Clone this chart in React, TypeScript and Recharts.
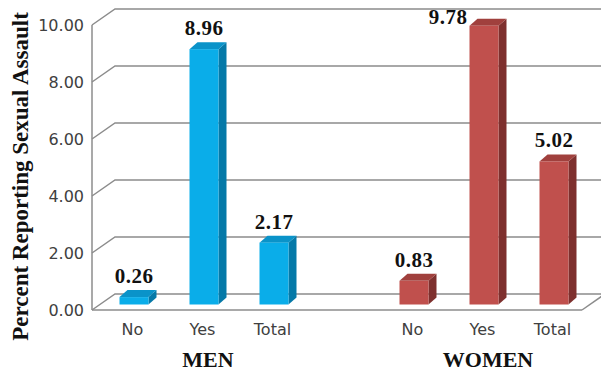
import React from "react";
import { BarChart, Bar, XAxis, YAxis, CartesianGrid, LabelList } from "recharts";

const categories = ["No", "Yes", "Total", "", "No", "Yes", "Total"];
const groups = ["MEN", "MEN", "MEN", "", "WOMEN", "WOMEN", "WOMEN"];
const values: (number | null)[] = [0.26, 8.96, 2.17, null, 0.83, 9.78, 5.02];
const yTicks = [0, 2, 4, 6, 8, 10];
const yTitle = "Percent Reporting Sexual Assault";

const data = categories.map((c, i) => ({ id: i, cat: c, grp: groups[i], value: values[i] }));

const W = 601;
const H = 377;
const MARGIN = { top: 25, right: 19, left: 0, bottom: 0 };
const X1_H = 30;
const X2_H = 37;
const PLOT_TOP = MARGIN.top;
const PLOT_BOTTOM = H - X1_H - X2_H;

const WALL_DX = 23;
const WALL_DY = -16;
const BAR_SHIFT_X = 6.5;
const BAR_SHIFT_Y = -5.5;
const BAR_DX = 8;
const BAR_DY = -7;
const TICK_SHIFT_X = 5.5;
const GRID = "#8c8c8c";
const SERIF = "'Liberation Serif', 'Times New Roman', serif";
const SANS = "'DejaVu Sans', sans-serif";

const PALETTE: Record<string, { front: string; side: string; top: string }> = {
  MEN: { front: "#0AADE9", side: "#0579A8", top: "#0A93C9" },
  WOMEN: { front: "#C0504D", side: "#7E302E", top: "#A0403D" },
};

const Bar3D = (props: any) => {
  const { x, y, width, height, payload } = props;
  if (payload == null || payload.value == null || !(height > 0)) return null;
  const c = PALETTE[payload.grp] || PALETTE.MEN;
  const fx = x + BAR_SHIFT_X;
  const fy = y + BAR_SHIFT_Y;
  const top = `${fx},${fy} ${fx + BAR_DX},${fy + BAR_DY} ${fx + width + BAR_DX},${fy + BAR_DY} ${fx + width},${fy}`;
  const side = `${fx + width},${fy} ${fx + width + BAR_DX},${fy + BAR_DY} ${fx + width + BAR_DX},${fy + height + BAR_DY} ${fx + width},${fy + height}`;
  return (
    <g>
      <polygon points={side} fill={c.side} />
      <polygon points={top} fill={c.top} />
      <rect x={fx} y={fy} width={width} height={height} fill={c.front} />
    </g>
  );
};

const ValueLabel = (props: any) => {
  const { x, y, width, value } = props;
  if (value == null) return null;
  const fx = x + BAR_SHIFT_X;
  const top = y + BAR_SHIFT_Y;
  const style = { fontFamily: SERIF, fontWeight: 700, fontSize: 21, letterSpacing: 0.5 } as const;
  if (top - PLOT_TOP < 15) {
    return (
      <text x={fx - 2} y={top - 2} textAnchor="end" fill="#111" style={style}>
        {Number(value).toFixed(2)}
      </text>
    );
  }
  return (
    <text x={fx + width / 2} y={top - 14} textAnchor="middle" fill="#111" style={style}>
      {Number(value).toFixed(2)}
    </text>
  );
};

const CatTick = (props: any) => {
  const { x, y, payload } = props;
  const label = categories[payload.value] ?? "";
  if (!label) return null;
  return (
    <text x={x + TICK_SHIFT_X} y={y + 17} textAnchor="middle" fill="#404040" style={{ fontFamily: SANS, fontSize: 16 }}>
      {label}
    </text>
  );
};

const GroupTick = (props: any) => {
  const { x, y, payload } = props;
  const i = payload.value as number;
  const g = groups[i];
  if (!g) return null;
  const idx = groups.map((v, k) => (v === g ? k : -1)).filter((k) => k >= 0);
  const mid = idx[Math.floor(idx.length / 2)];
  if (i !== mid) return null;
  return (
    <text x={x + 11} y={y + 19} textAnchor="middle" fill="#111" style={{ fontFamily: SERIF, fontWeight: 700, fontSize: 22 }}>
      {g}
    </text>
  );
};

const GridLine = (p: any) => {
  const { x1, x2, y1, key } = p;
  const y = y1;
  const isFloor = Math.abs(y - PLOT_BOTTOM) < 1;
  return (
    <g key={key}>
      <polyline
        points={`${x1},${y} ${x1 + WALL_DX},${y + WALL_DY} ${x2 + WALL_DX},${y + WALL_DY}`}
        fill="none"
        stroke={GRID}
        strokeWidth={1.5}
      />
      {isFloor && (
        <line x1={x2} y1={y} x2={x2 + WALL_DX} y2={y + WALL_DY} stroke={GRID} strokeWidth={1.5} />
      )}
    </g>
  );
};

const YTitle = (p: any) => {
  const vb = p.viewBox || { x: 0, y: PLOT_TOP, width: 92, height: PLOT_BOTTOM - PLOT_TOP };
  const cx = 28;
  const cy = vb.y + vb.height / 2 + 9;
  return (
    <text
      x={cx}
      y={cy}
      transform={`rotate(-90 ${cx} ${cy})`}
      textAnchor="middle"
      fill="#111"
      style={{ fontFamily: SERIF, fontWeight: 700, fontSize: 23 }}
    >
      {yTitle}
    </text>
  );
};

export default function App() {
  return (
    <div style={{ position: "absolute", left: 0, top: 0, width: W, height: H, background: "#fff" }}>
      <BarChart width={W} height={H} data={data} margin={MARGIN}>
        <CartesianGrid vertical={false} horizontal={GridLine as any} />
        <XAxis
          dataKey="id"
          type="category"
          height={X1_H}
          axisLine={{ stroke: GRID, strokeWidth: 1.5 }}
          tickLine={false}
          tick={<CatTick />}
          interval={0}
        />
        <XAxis
          dataKey="id"
          type="category"
          xAxisId="grp"
          height={X2_H}
          axisLine={false}
          tickLine={false}
          tick={<GroupTick />}
          interval={0}
        />
        <YAxis
          domain={[0, 10]}
          ticks={yTicks}
          width={92}
          axisLine={{ stroke: GRID, strokeWidth: 1.5 }}
          tickLine={false}
          tickFormatter={(v: number) => v.toFixed(2)}
          tick={{ fill: "#404040", fontSize: 16, fontFamily: SANS }}
          label={{ content: YTitle } as any}
        />
        <Bar dataKey="value" barSize={29} shape={Bar3D} isAnimationActive={false}>
          <LabelList dataKey="value" content={ValueLabel} />
        </Bar>
      </BarChart>
    </div>
  );
}
